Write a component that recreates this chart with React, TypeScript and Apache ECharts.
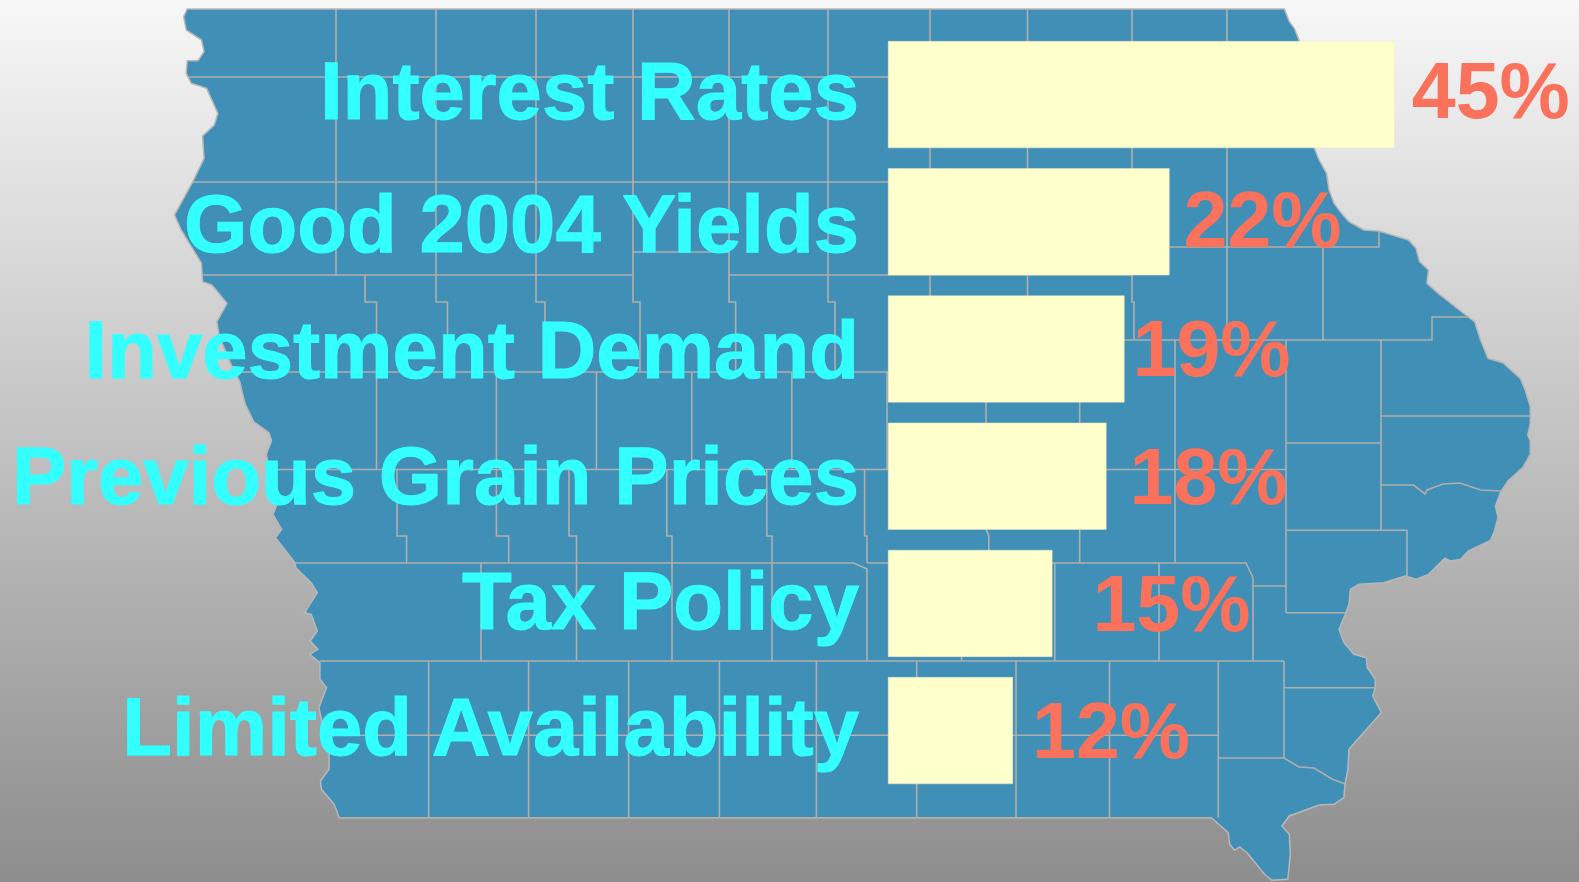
import React, { useEffect, useRef } from "react";
import * as echarts from "echarts";

const categories = ["Interest Rates", "Good 2004 Yields", "Investment Demand", "Previous Grain Prices", "Tax Policy", "Limited Availability"];
const barLengths = [45, 25, 21, 19.4, 14.6, 11.1];
const valueLabels = ["45%", "22%", "19%", "18%", "15%", "12%"];
const labelGaps = [17, 14, 8, 23, 40, 19];
const valueShifts = [-4, -2, -1, 0, 0, 0];
const categoryShifts = [-4, 1, 0, -1, -3, -4];

const W = 1579;
const H = 882;
type P = [number, number];
const a = (x: number, y: number): P => [x / 1.96, y / 3];
const b = (x: number, y: number): P => [800 + x / 2.013, y / 3];
const c = (x: number, y: number): P => [x / 1.96, 441 + y / 3];
const d = (x: number, y: number): P => [800 + x / 2.013, 441 + y / 3];

const stateOutline: P[] = [
  a(367, 27), b(975, 27),
  ...([[985, 65], [995, 85], [1005, 122], [1035, 443], [1045, 480], [1060, 520], [1065, 570], [1075, 610], [1090, 640], [1105, 665], [1135, 690], [1165, 693], [1225, 720], [1240, 745], [1247, 785], [1265, 810], [1262, 850], [1285, 880], [1340, 945], [1358, 965], [1370, 1020], [1385, 1075], [1415, 1088], [1450, 1135], [1460, 1170], [1470, 1220], [1470, 1270], [1465, 1305]] as P[]).map(([x, y]) => b(x, y)),
  ...([[1470, 0], [1470, 40], [1455, 80], [1425, 120], [1410, 155], [1400, 195], [1405, 230], [1398, 270], [1390, 298], [1345, 330], [1330, 355], [1310, 360], [1298, 352], [1265, 400], [1240, 415], [1218, 405], [1175, 425], [1125, 430], [1108, 445], [1105, 490], [1095, 530], [1085, 565], [1095, 605], [1115, 640], [1140, 650], [1142, 680], [1158, 715], [1158, 740], [1153, 765], [1170, 815], [1105, 925], [1103, 985], [1097, 1030], [1095, 1070], [1075, 1090], [1045, 1092], [985, 1125], [970, 1155], [985, 1180], [987, 1240], [982, 1315], [950, 1318], [935, 1300], [900, 1235], [885, 1218], [875, 1228], [865, 1210], [862, 1175], [828, 1130]] as P[]).map(([x, y]) => d(x, y)),
  ...([[665, 1130], [655, 1090], [630, 1045], [628, 1020], [645, 985], [645, 940], [625, 800], [640, 740], [627, 715], [627, 665], [607, 640], [623, 625], [608, 600], [622, 570], [610, 520], [597, 515], [622, 455], [610, 425], [580, 380], [578, 365], [540, 290], [552, 265], [535, 220], [543, 190], [522, 40], [532, 0]] as P[]).map(([x, y]) => c(x, y)),
  ...([[532, 1320], [527, 1298], [497, 1265], [480, 1210], [470, 1145], [452, 1090], [430, 1010], [425, 965], [445, 910], [415, 855], [397, 845], [395, 790], [375, 740], [355, 690], [342, 645], [378, 545], [400, 475], [397, 408], [420, 375], [427, 340], [405, 265], [375, 250], [365, 220], [367, 182], [388, 182], [400, 155], [395, 120], [365, 90], [360, 50]] as P[]).map(([x, y]) => a(x, y)),
];

const countyLines: P[][] = [
  [[189, 77], [1000, 77]],
  [[193, 182], [1000, 182]],
  [[203, 275], [633, 275]],
  [[729, 275], [1132, 275]],
  [[633, 252], [729, 252]],
  [[1169, 247], [1379, 247], [1379, 232]],
  [[1124, 340], [1432, 340], [1432, 317], [1468, 317]],
  [[237, 372], [1000, 372]],
  [[269, 469.5], [1286, 469.5]],
  [[1286, 443], [1381, 443]],
  [[1381, 416], [1530, 416]],
  [[1381, 485], [1413.5, 485], [1425, 494], [1427, 490], [1443, 484], [1460, 483], [1480.6, 490], [1501, 491]],
  [[1286, 530.3], [1407, 530.3], [1407, 576]],
  [[1286, 612.7], [1346, 612.7]],
  [[1253, 586], [1286, 586]],
  [[295, 563], [853.6, 563], [867, 569], [867, 661]],
  [[867, 563], [1246, 563], [1253, 577.7], [1253, 661]],
  [[320, 661], [1284, 661]],
  [[326.5, 735.3], [1218, 735.3]],
  [[1284, 687.7], [1375, 687.7]],
  [[1218, 758], [1284, 758], [1299, 767], [1314, 768], [1332, 779], [1345, 784]],
  [[340, 817.7], [1212, 817.7]],
  [[336, 9], [336, 275]],
  [[436, 9], [436, 302], [447.5, 302], [447.5, 372]],
  [[536, 9], [536, 302], [545, 302], [545, 372]],
  [[633, 9], [633, 302], [640, 302], [640, 372]],
  [[729, 9], [729, 302], [735.7, 302], [735.7, 372]],
  [[828, 9], [828, 302], [835, 302], [835, 372]],
  [[930, 9], [930, 372]],
  [[1027.5, 9], [1027.5, 372]],
  [[1132, 9], [1132, 302], [1134, 302], [1134, 340]],
  [[1227, 9], [1227, 340]],
  [[1323, 248], [1323, 340]],
  [[365, 275], [365, 302], [376.5, 302], [376.5, 469.5]],
  [[496.4, 372], [496.4, 469.5]],
  [[596.4, 372], [596.4, 469.5]],
  [[691.8, 372], [691.8, 469.5]],
  [[791.8, 372], [791.8, 469.5]],
  [[887, 372], [887, 469.5]],
  [[986, 372], [986, 529], [988.8, 536], [988.8, 563]],
  [[1079.7, 372], [1079.7, 563]],
  [[1175, 340], [1175, 563]],
  [[1286, 340], [1286, 612.7]],
  [[1381, 340], [1381, 530.3]],
  [[397, 469.5], [397, 536], [406.6, 536], [406.6, 563]],
  [[496.4, 469.5], [496.4, 536], [508.7, 536], [508.7, 563]],
  [[569, 469.5], [569, 536], [576.5, 536], [576.5, 661]],
  [[666.8, 469.5], [666.8, 536], [672, 536], [672, 661]],
  [[766.8, 469.5], [766.8, 536], [772, 536], [772, 661]],
  [[864.6, 469.5], [864.6, 536], [867, 536], [867, 563]],
  [[481, 563], [481, 661]],
  [[961.5, 563], [961.5, 661]],
  [[1054.8, 563], [1054.8, 661]],
  [[1159, 563], [1159, 661]],
  [[428.6, 661], [428.6, 817.7]],
  [[528.6, 661], [528.6, 817.7]],
  [[628.6, 661], [628.6, 817.7]],
  [[719.4, 661], [719.4, 817.7]],
  [[816.4, 661], [816.4, 817.7]],
  [[916.7, 661], [916.7, 817.7]],
  [[1016, 661], [1016, 817.7]],
  [[1109.5, 661], [1109.5, 817.7]],
  [[1218.3, 661], [1218.3, 817.7]],
  [[1284, 661], [1284, 758]],
];

const FONT = '"Liberation Sans", Arial, sans-serif';
const LINE = "#b2aeab";
const CYAN = "#33ffff";
const CORAL = "#fa725c";
const CAT_SIZE = 81.5;

export default function App() {
  const ref = useRef<HTMLDivElement>(null);
  useEffect(() => {
    document.body.style.margin = "0";
    const chart = echarts.init(ref.current!, undefined, { renderer: "svg" });
    chart.setOption({
      animation: false,
      backgroundColor: {
        type: "linear", x: 0, y: 0, x2: 0, y2: 1,
        colorStops: [{ offset: 0, color: "#f7f7f7" }, { offset: 1, color: "#8d8d8d" }],
      },
      grid: { left: 888, top: 31, width: 675.6, height: 763.2, containLabel: false },
      xAxis: { type: "value", min: 0, max: 60, show: false },
      yAxis: {
        type: "category",
        inverse: true,
        data: categories.map((name, i) => ({
          value: name,
          textStyle: { verticalAlign: "top", padding: [categoryShifts[i] - CAT_SIZE / 2, 0, 0, 0] },
        })),
        axisLine: { show: false },
        axisTick: { show: false },
        splitLine: { show: false },
        axisLabel: {
          show: true, interval: 0, margin: 29, align: "right",
          color: CYAN, fontFamily: FONT, fontWeight: "bold", fontSize: CAT_SIZE,
          textBorderColor: CYAN, textBorderWidth: 1,
        },
      },
      series: [{
        type: "bar",
        barWidth: 107,
        itemStyle: { color: "#ffffcc", borderColor: "#e6e6d0", borderWidth: 0.5 },
        label: {
          show: true, position: "right",
          color: CORAL, fontFamily: FONT, fontWeight: "bold", fontSize: 79,
          formatter: (p: any) => valueLabels[p.dataIndex],
        },
        data: barLengths.map((v, i) => ({ value: v, label: { distance: labelGaps[i], offset: [0, valueShifts[i]] } })),
      }],
      graphic: {
        elements: [
          {
            type: "polygon", z: -2, silent: true,
            shape: { points: stateOutline },
            style: { fill: "#3f8fb7", stroke: "#b8b8b8", lineWidth: 1.5 },
          },
          ...countyLines.map((pts) => ({
            type: "polyline", z: -1, silent: true,
            shape: { points: pts },
            style: { fill: "none", stroke: LINE, lineWidth: 1.6 },
          })),
        ],
      },
    });
    return () => chart.dispose();
  }, []);
  return <div ref={ref} style={{ position: "absolute", left: 0, top: 0, width: W, height: H }} />;
}
